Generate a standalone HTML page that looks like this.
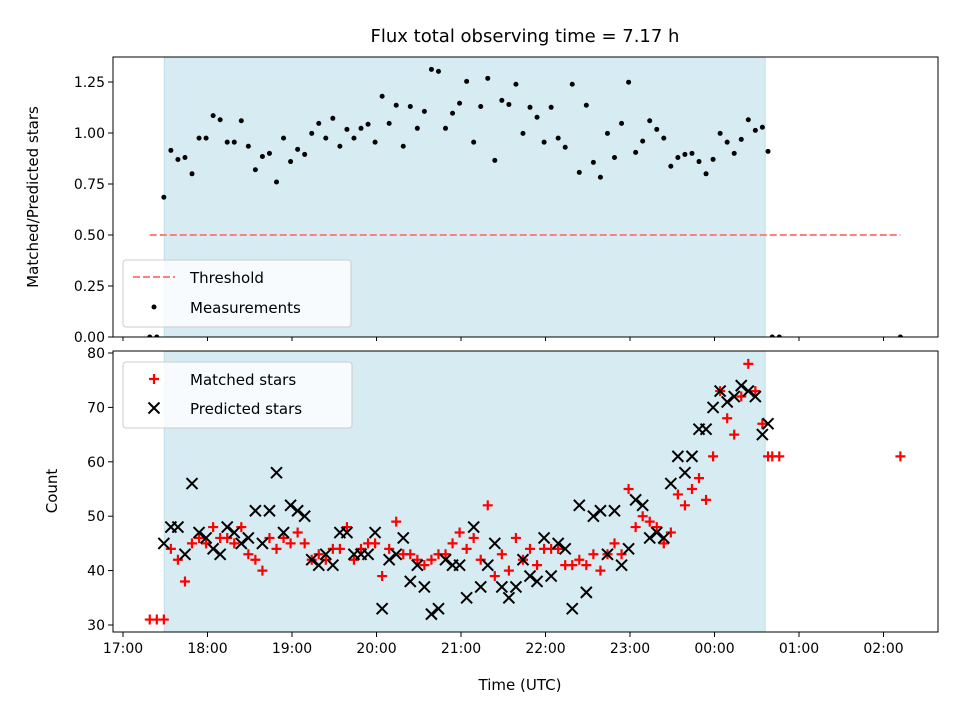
<!DOCTYPE html>
<html><head><meta charset="utf-8"><style>
body{margin:0;background:#fff}
svg{font-family:"DejaVu Sans","Liberation Sans",sans-serif}
</style></head><body>
<svg id="c" width="960" height="720" xmlns="http://www.w3.org/2000/svg"></svg>
<script>
const times=[19,24,29,34,39,44,49,54,59,64,69,74,79,84,89,94,99,104,109,114,119,124,129,134,139,144,149,154,159,164,169,174,179,184,189,194,199,204,209,214,219,224,229,234,239,244,249,254,259,264,269,274,279,284,289,294,299,304,309,314,319,324,329,334,339,344,349,354,359,364,369,374,379,384,389,394,399,404,409,414,419,424,429,434,439,444,449,454,458,461,466,552];
const ratio=[0,0,0.685,0.915,0.87,0.88,0.80,0.975,0.975,1.085,1.065,0.955,0.955,1.06,0.935,0.82,0.885,0.90,0.76,0.975,0.86,0.92,0.895,0.998,1.047,0.975,1.072,0.935,1.018,0.975,1.023,1.043,0.955,1.18,1.047,1.136,0.935,1.13,1.023,1.106,1.312,1.302,1.023,1.097,1.146,1.253,0.955,1.13,1.268,0.866,1.16,1.14,1.239,0.998,1.126,1.077,0.955,1.126,0.975,0.93,1.239,0.807,1.136,0.856,0.783,0.998,0.88,1.047,1.249,0.905,0.96,1.06,1.018,0.975,0.837,0.88,0.895,0.90,0.86,0.80,0.871,0.998,0.955,0.90,0.969,1.065,1.013,1.028,0.91,0,0,0];
const matched=[31,31,31,44,42,38,45,46,45,48,46,46,45,48,43,42,40,46,44,46,45,47,45,42,43,42,44,44,48,42,44,45,45,39,44,49,43,43,42,41,42,43,43,45,47,44,46,42,52,39,43,40,46,42,44,41,44,44,44,41,41,42,41,43,40,43,45,43,55,48,50,49,48,45,47,54,52,55,57,53,61,73,68,65,72,78,73,67,61,61,61,61];
const predicted=[null,null,45,48,48,43,56,47,46,44,43,48,47,45,46,51,45,51,58,47,52,51,50,42,41,43,41,47,47,43,43,43,47,33,42,43,46,38,41,37,32,33,42,41,41,35,48,37,41,45,37,35,37,42,39,38,46,39,45,44,33,52,36,50,51,43,51,41,44,53,52,46,47,46,56,61,58,61,66,66,70,73,71,72,74,73,72,65,67,null,null,null];
const xTickLabels=["17:00","18:00","19:00","20:00","21:00","22:00","23:00","00:00","01:00","02:00"];
const topTicks=[0,0.25,0.5,0.75,1.0,1.25];
const botTicks=[30,40,50,60,70,80];
const threshold=0.5, shadeStart=29.3, shadeEnd=456, thrStart=19, thrEnd=552;

const NS="http://www.w3.org/2000/svg";
const svg=document.getElementById('c');
function mk(tag,attrs,parent,name){const e=document.createElementNS(NS,tag);for(const k in attrs)e.setAttribute(k,attrs[k]);


(parent||svg).appendChild(e);return e;}
const L=113,R=938,T1=57,B1=337,T2=351,B2=632;
const xs=m=>123+m*84.5/60;
const y1=v=>337-v*204;
const y2=c=>625-(c-30)*5.44;

const tt=mk('text',{x:525,y:42,'font-size':18,'text-anchor':'middle',fill:'#000'},svg,'chart-title');tt.textContent='Flux total observing time = 7.17 h';

[[T1,B1,'top-shade'],[T2,B2,'bottom-shade']].forEach(([t,b,n])=>{
mk('rect',{x:xs(shadeStart),y:t,width:xs(shadeEnd)-xs(shadeStart),height:b-t,fill:'#add8e6','fill-opacity':0.5,stroke:'#add8e6','stroke-opacity':0.7},svg,n);});

mk('line',{x1:xs(thrStart),x2:xs(thrEnd),y1:y1(threshold),y2:y1(threshold),stroke:'#ff7f7f','stroke-width':2,'stroke-dasharray':'7,3'},svg,'threshold-line');

const gm=mk('g',{},svg,'measurements-series');
ratio.forEach((v,i)=>{const cy=y1(v);if(cy>B1+3)return;
mk('circle',{cx:xs(times[i]),cy:cy,r:2.5,fill:'#000'},gm,'measurement-point');});

const gp=mk('g',{},svg,'matched-series');
matched.forEach((v,i)=>{const x=xs(times[i]),y=y2(v);
mk('path',{d:`M${x-5},${y}H${x+5}M${x},${y-5}V${y+5}`,stroke:'#f00','stroke-width':2.2},gp,'matched-point');});
const gx=mk('g',{},svg,'predicted-series');
predicted.forEach((v,i)=>{if(v==null)return;const x=xs(times[i]),y=y2(v);
mk('path',{d:`M${x-5.5},${y-5.5}L${x+5.5},${y+5.5}M${x-5.5},${y+5.5}L${x+5.5},${y-5.5}`,stroke:'#000','stroke-width':2},gx,'predicted-point');});

mk('rect',{x:L,y:B1+0.5,width:R-L,height:T2-B1-1,fill:'#fff'},svg,'axes-gap');

mk('rect',{x:L,y:T1,width:R-L,height:B1-T1,fill:'none',stroke:'#000','stroke-width':1},svg,'top-axes-frame');
mk('rect',{x:L,y:T2,width:R-L,height:B2-T2,fill:'none',stroke:'#000','stroke-width':1},svg,'bottom-axes-frame');

xTickLabels.forEach((lab,i)=>{const x=xs(i*60);
mk('line',{x1:x,x2:x,y1:B1,y2:B1+4,stroke:'#000'},svg,'top-x-tick');
mk('line',{x1:x,x2:x,y1:B2,y2:B2+5,stroke:'#000'},svg,'x-tick');
const t=mk('text',{x:x,y:B2+21,'font-size':14,'text-anchor':'middle'},svg,'x-tick-label');t.textContent=lab;});
topTicks.forEach(v=>{const y=y1(v);
mk('line',{x1:L-5,x2:L,y1:y,y2:y,stroke:'#000'},svg,'top-y-tick');
const t=mk('text',{x:L-8,y:y+5,'font-size':14,'text-anchor':'end'},svg,'top-y-tick-label');t.textContent=v.toFixed(2);});
botTicks.forEach(v=>{const y=y2(v);
mk('line',{x1:L-5,x2:L,y1:y,y2:y,stroke:'#000'},svg,'bottom-y-tick');
const t=mk('text',{x:L-8,y:y+5,'font-size':14,'text-anchor':'end'},svg,'bottom-y-tick-label');t.textContent=v;});

let a=mk('text',{x:520,y:690,'font-size':15,'text-anchor':'middle'},svg,'x-axis-title');a.textContent='Time (UTC)';
a=mk('text',{x:0,y:0,'font-size':15,'text-anchor':'middle',transform:'translate(38,197) rotate(-90)'},svg,'top-y-axis-title');a.textContent='Matched/Predicted stars';
a=mk('text',{x:0,y:0,'font-size':15,'text-anchor':'middle',transform:'translate(57,491) rotate(-90)'},svg,'bottom-y-axis-title');a.textContent='Count';

const lg1=mk('g',{},svg,'top-legend');
mk('rect',{x:123,y:260,width:228,height:67,rx:3,fill:'#fff','fill-opacity':0.8,stroke:'#ccc'},lg1,'legend-box');
mk('line',{x1:133,x2:175,y1:277,y2:277,stroke:'#ff7f7f','stroke-width':2,'stroke-dasharray':'7,3'},lg1,'legend-threshold-swatch');
a=mk('text',{x:190,y:283,'font-size':15},lg1,'legend-threshold');a.textContent='Threshold';
mk('circle',{cx:154,cy:307,r:2.5,fill:'#000'},lg1,'legend-measurements-swatch');
a=mk('text',{x:190,y:313,'font-size':15},lg1,'legend-measurements');a.textContent='Measurements';
const lg2=mk('g',{},svg,'bottom-legend');
mk('rect',{x:123,y:362,width:229,height:66,rx:3,fill:'#fff','fill-opacity':0.8,stroke:'#ccc'},lg2,'legend-box');
mk('path',{d:'M149,379H159M154,374V384',stroke:'#f00','stroke-width':2.2},lg2,'legend-matched-swatch');
a=mk('text',{x:190,y:385,'font-size':15},lg2,'legend-matched');a.textContent='Matched stars';
mk('path',{d:'M148.5,402.5L159.5,413.5M148.5,413.5L159.5,402.5',stroke:'#000','stroke-width':2},lg2,'legend-predicted-swatch');
a=mk('text',{x:190,y:414,'font-size':15},lg2,'legend-predicted');a.textContent='Predicted stars';
</script>
</body></html>
